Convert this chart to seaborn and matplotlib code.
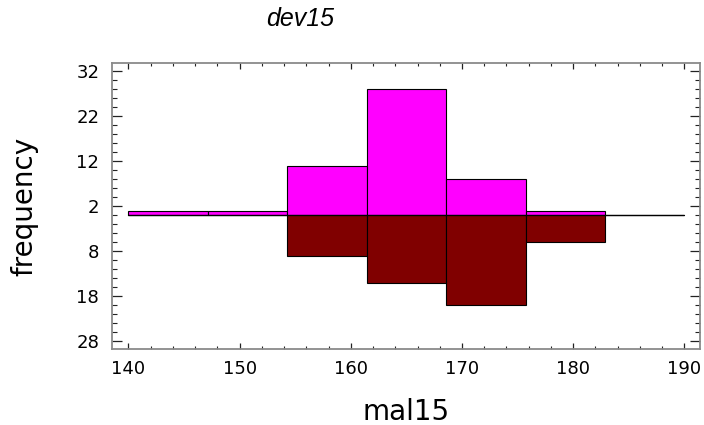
import numpy as np
import pandas as pd
import matplotlib
matplotlib.use("Agg")
import matplotlib.pyplot as plt
from matplotlib.ticker import MultipleLocator, FixedLocator, FixedFormatter
import seaborn as sns

# ---- data ----
bin_edges = [140.0, 147.142857, 154.285714, 161.428571, 168.571429, 175.714286, 182.857143, 190.0]
upper_counts = [1, 1, 11, 28, 8, 1, 0]      # magenta (upper) group
lower_counts = [0, 0, 9, 15, 20, 6, 0]      # maroon (lower) group
ytick_values = [32, 22, 12, 2, -8, -18, -28]
xtick_values = [140, 150, 160, 170, 180, 190]
title_text = "dev15"
xlabel_text = "mal15"
ylabel_text = "frequency"

sns.set_theme(style="white")
plt.rcParams['font.family'] = ['DejaVu Sans']
plt.rcParams['text.color'] = 'black'
plt.rcParams['axes.labelcolor'] = 'black'

fig = plt.figure(figsize=(7.04, 4.25), dpi=100)
ax = fig.add_axes([111.7/704, 1-349/425, (700-111.7)/704, (349-63.3)/425])

edges = np.array(bin_edges)
centers = (edges[:-1] + edges[1:]) / 2
df_up = pd.DataFrame({"x": centers, "w": np.array(upper_counts, float)})
df_lo = pd.DataFrame({"x": centers, "w": -np.array(lower_counts, float)})

sns.histplot(data=df_up, x="x", weights="w", bins=list(bin_edges), ax=ax,
             color="#FF00FF", alpha=1, edgecolor="black", linewidth=0.8, zorder=2)
sns.histplot(data=df_lo, x="x", weights="w", bins=list(bin_edges), ax=ax,
             color="#800000", alpha=1, edgecolor="black", linewidth=0.8, zorder=2)

ax.plot([edges[0], edges[-1]], [0, 0], color="black", lw=0.9, zorder=3)

ax.set_xlim(138.5, 191.4)
ax.set_ylim(-29.7, 33.8)

ax.xaxis.set_major_locator(FixedLocator(xtick_values))
ax.xaxis.set_minor_locator(MultipleLocator(2))
ax.yaxis.set_major_locator(FixedLocator(ytick_values))
ax.yaxis.set_major_formatter(FixedFormatter([str(abs(v)) for v in ytick_values]))
ax.yaxis.set_minor_locator(MultipleLocator(2))

ax.tick_params(axis="both", which="both", direction="in", colors="#222222",
               labelcolor="black", labelsize=13)
ax.tick_params(axis="x", which="major", length=4.3, width=0.9, top=True, bottom=True, pad=8)
ax.tick_params(axis="x", which="minor", length=2.2, width=0.8, top=True, bottom=True)
ax.tick_params(axis="y", which="major", length=7.2, width=0.9, left=True, right=True, pad=9)
ax.tick_params(axis="y", which="minor", length=3.6, width=0.8, left=True, right=True)

for s in ax.spines.values():
    s.set_color("#8a8a8a")
    s.set_linewidth(1.3)
    s.set_visible(True)

ax.set_xlabel(xlabel_text, fontsize=20, va="center", color="black")
ax.xaxis.set_label_coords(0.5, (349-412.5)/285.7)
ax.set_ylabel(ylabel_text, fontsize=20, va="center", color="black")
ax.yaxis.set_label_coords((24.5-111.7)/588.3, 0.5)

fig.text(300.5/704, 1-19/425, title_text, fontsize=18, style="italic",
         family=["Liberation Sans", "DejaVu Sans"], color="black",
         ha="center", va="center")

ax.grid(False)
fig.savefig("out.png", dpi=100, facecolor="white")
